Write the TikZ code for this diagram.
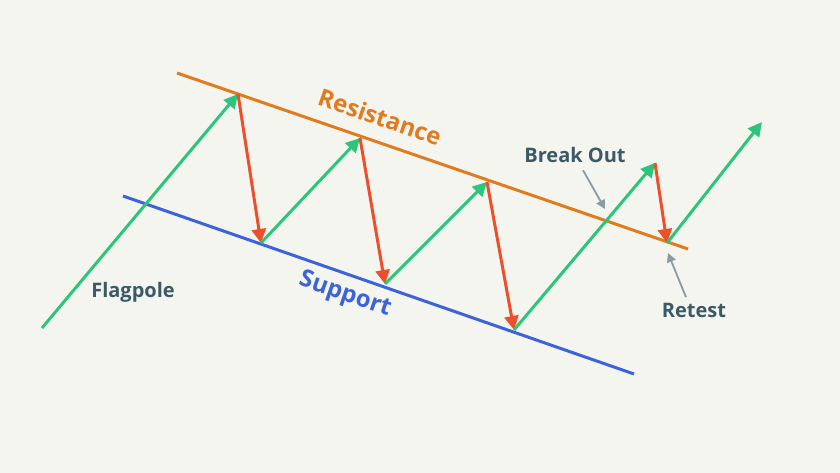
\documentclass[tikz,border=0pt]{standalone}
\usepackage{fontspec}
\setmainfont{Open Sans}
\usetikzlibrary{arrows.meta}
\definecolor{bgcol}{HTML}{F5F5F0}
\definecolor{rescol}{HTML}{E27A1E}
\definecolor{supcol}{HTML}{3D63DA}
\definecolor{upcol}{HTML}{2DC47C}
\definecolor{downcol}{HTML}{EC4F2C}
\definecolor{txtcol}{HTML}{3C5A66}
\definecolor{pointcol}{HTML}{8A9BA3}

\begin{document}
\begin{tikzpicture}
	[x=1pt,y=-1pt,
	 up/.style={upcol,line width=3pt,-{Triangle[length=14pt,width=14pt]}},
	 down/.style={downcol,line width=3pt,-{Triangle[length=14pt,width=14pt]}},
	 pointer/.style={pointcol,line width=1.8pt,-{Triangle[length=9pt,width=9pt]}},
	 lbl/.style={txtcol,font=\fontsize{20}{24}\selectfont\bfseries}]
	\fill[bgcol] (0,0) rectangle (840,473);
	\useasboundingbox (0,0) rectangle (840,473);
	% channel
	\coordinate (r1) at (177,73);
	\coordinate (r2) at (688,249);
	\coordinate (s1) at (123,196);
	\coordinate (s2) at (634,374);
	\draw[rescol,line width=3pt] (r1) -- (r2);
	\draw[supcol,line width=3pt] (s1) -- (s2);
	% turning points
	\coordinate (p0) at (42,328);
	\coordinate (p1) at (238,94);
	\coordinate (p2) at (261,243);
	\coordinate (p3) at (360,138);
	\coordinate (p4) at (385,284);
	\coordinate (p5) at (487,182);
	\coordinate (p6) at (514,330);
	\coordinate (p7) at (655,163);
	\coordinate (p8) at (667,243);
	\coordinate (p9) at (762,122);
	\draw[up] (p0) -- (p1);
	\draw[down] (p1) -- (p2);
	\draw[up] (p2) -- (p3);
	\draw[down] (p3) -- (p4);
	\draw[up] (p4) -- (p5);
	\draw[down] (p5) -- (p6);
	\draw[up] (p6) -- (p7);
	\draw[down] (p7) -- (p8);
	\draw[up] (p8) -- (p9);
	% labels
	\node[rescol,font=\fontsize{24}{28}\selectfont\bfseries,rotate=-19] (res) at (380,117) {Resistance};
	\node[supcol,font=\fontsize{24}{28}\selectfont\bfseries,rotate=-19] (sup) at (345,295) {Support};
	\node[lbl] (flag) at (133,292) {Flagpole};
	\node[lbl] (brk) at (575,155) {Break Out};
	\node[lbl] (ret) at (694,310) {Retest};
	\coordinate (bo) at (605,209);
	\coordinate (rt) at (668,253);
	\draw[pointer] (brk.south) ++(8,4) -- (bo);
	\draw[pointer] (ret.north) ++(-8,-2) -- (rt);
\end{tikzpicture}
\end{document}
